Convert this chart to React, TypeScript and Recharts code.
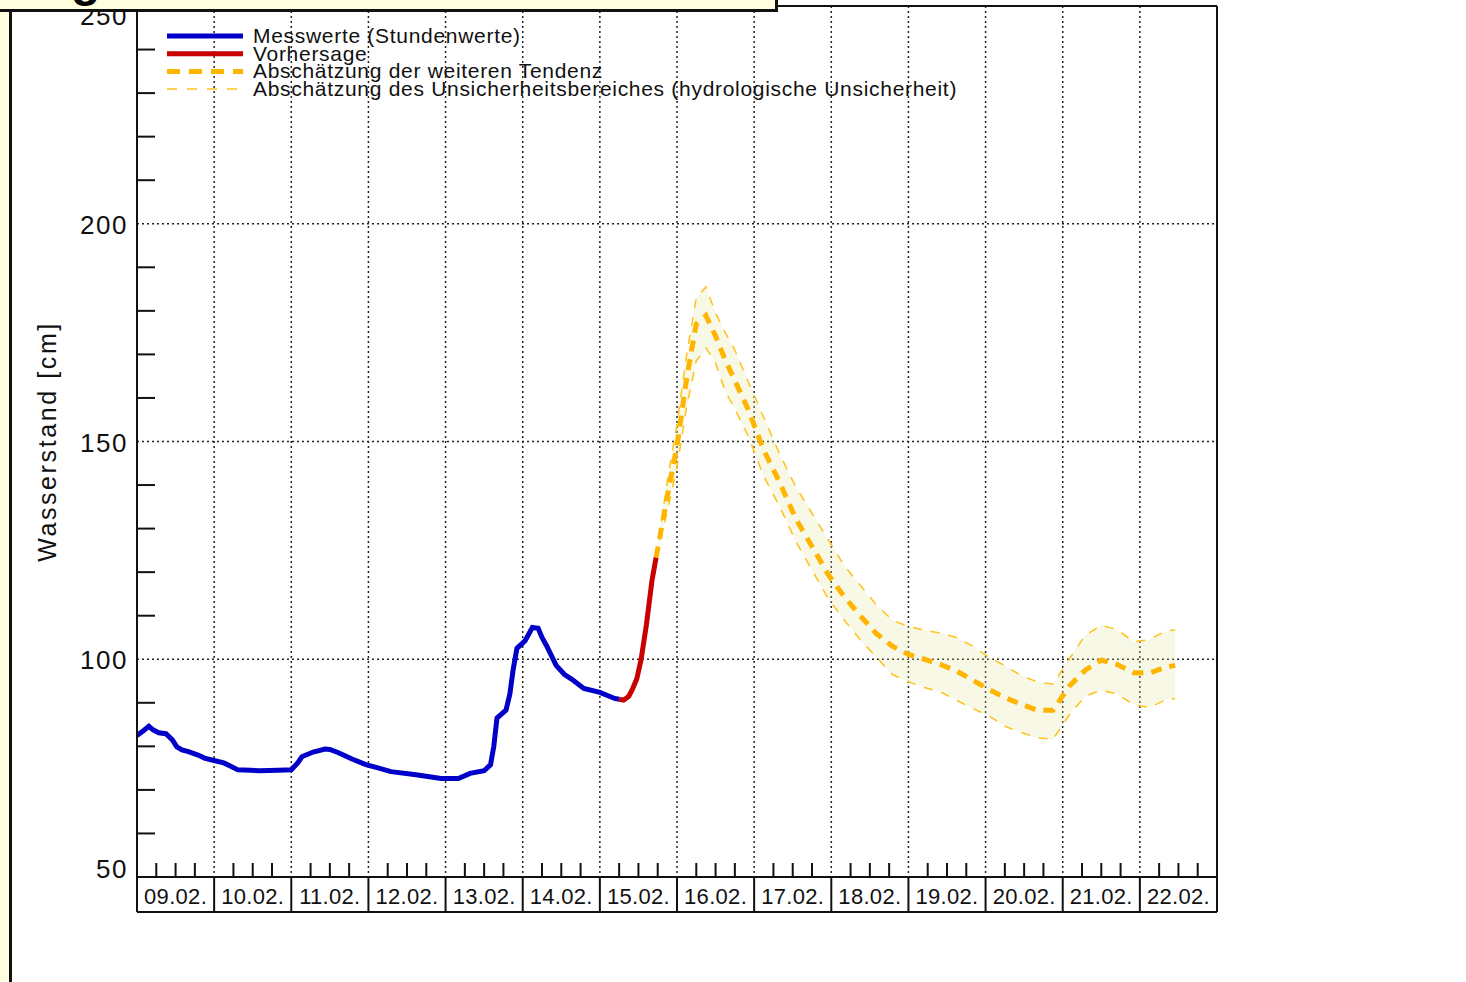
import React from 'react';
import {
  Area,
  CartesianGrid,
  ComposedChart,
  Legend,
  Line,
  XAxis,
  YAxis,
} from 'recharts';

// hours since 09.02. 00:00 -> water level in cm
const MEASURED_HOURS = [
  0, 2, 3.7, 5, 6.8, 9, 11, 12.4, 14, 16, 19, 21, 23.6, 27, 29, 31.4, 38, 44, 48, 50, 51.3, 54.8,
  58.5, 60, 62.5, 66.9, 71.2, 74.7, 79, 86.8, 94.6, 100, 103.6, 108, 110, 111, 112, 114.8, 116,
  117, 118.2, 120.7, 123, 124.8, 126, 127.5, 130.4, 133, 135.3, 139, 144, 148.6, 150,
];
const MEASURED_LEVEL = [
  82.5, 83.6, 84.6, 83.8, 83.1, 82.9, 81.5, 79.9, 79.2, 78.8, 78.0, 77.3, 76.8, 76.2, 75.5, 74.6,
  74.4, 74.5, 74.6, 76.2, 77.6, 78.7, 79.4, 79.3, 78.6, 77.1, 75.8, 75.1, 74.2, 73.5, 72.6, 72.6,
  73.8, 74.4, 75.8, 80, 86.5, 88.3, 92, 97.5, 102.5, 104.2, 107.3, 107.1, 105, 103, 98.6, 96.5,
  95.4, 93.3, 92.4, 91, 90.8,
];

const FORECAST_HOURS = [150, 151.4, 153, 154, 155.5, 156.8, 158.5, 160.2, 161.5];
const FORECAST_LEVEL = [90.8, 90.6, 91.5, 92.9, 95.5, 99.8, 108, 118, 123.4];

const TREND_HOURS = [
  161.5, 165, 168, 171, 174, 177, 180, 183, 186, 190, 195, 200, 205, 210, 215, 220, 225, 230, 235,
  240, 245, 250, 255, 260, 265, 270, 275, 280, 285, 290, 295, 300, 305, 310, 315, 320, 323,
];
const TREND_LEVEL = [
  123.4, 137.5, 149, 164.5, 177, 178.9, 174.2, 168.7, 164, 157.6, 148, 140.5, 132.2, 125.9, 119.5,
  114.4, 110, 105.9, 103, 101.1, 100, 98.8, 97.3, 95.2, 93.1, 91.2, 89.7, 88.3, 88.3, 93.8, 97.5,
  99.8, 98.8, 96.9, 96.8, 98.2, 98.6,
];
const TREND_HIGH = [
  123.4, 141, 154, 170, 183, 185.5, 179.5, 175, 171, 164, 155.5, 147, 139.5, 133.5, 127.5, 121.5,
  117, 112.5, 109, 107.5, 106.7, 106, 105, 103, 100.5, 98.5, 96.3, 94.8, 94.3, 100, 105.5, 107.8,
  106.8, 104, 104.5, 106.5, 106.7,
];
const TREND_LOW = [
  123.4, 134, 144, 158, 168.5, 171.5, 168, 161.5, 157.5, 151.5, 142, 135, 127, 120.5, 114, 109,
  104.5, 100.5, 96.5, 94.8, 93.5, 92.5, 90.6, 88.7, 87, 84.6, 83.2, 82, 81.6, 87.2, 91.5, 92.9, 92,
  89.6, 88.9, 90.7, 91,
];

const DAY_LABELS = [
  '09.02.', '10.02.', '11.02.', '12.02.', '13.02.', '14.02.', '15.02.',
  '16.02.', '17.02.', '18.02.', '19.02.', '20.02.', '21.02.', '22.02.',
];
const HOUR_TICKS = Array.from({ length: DAY_LABELS.length * 4 + 1 }, (_, i) => i * 6);
const DAY_BOUNDS = DAY_LABELS.slice(1).map((_, i) => (i + 1) * 24);
const LEVEL_TICKS = [50, 60, 70, 80, 90, 100, 110, 120, 130, 140, 150, 160, 170, 180, 190, 200, 210, 220, 230, 240, 250];
const GRID_LEVELS = [100, 150, 200];
const MW_LEVEL = 91;
const RIGHT_TICKS = [...LEVEL_TICKS, MW_LEVEL].sort((a, b) => a - b);

const LEGEND_ITEMS = [
  { label: 'Messwerte (Stundenwerte)', color: '#0000C8', width: 5, dash: undefined },
  { label: 'Vorhersage', color: '#C80000', width: 5, dash: undefined },
  { label: 'Abschätzung der weiteren Tendenz', color: '#FFB400', width: 5, dash: '13 9' },
  { label: 'Abschätzung des Unsicherheitsbereiches (hydrologische Unsicherheit)', color: '#FFC21A', width: 1.5, dash: '10 10' },
];

const FONT = '"Liberation Sans", Arial, sans-serif';
const INK = '#111';

const measured = MEASURED_HOURS.map((h, i) => ({ h, v: MEASURED_LEVEL[i] }));
const forecast = FORECAST_HOURS.map((h, i) => ({ h, v: FORECAST_LEVEL[i] }));
const trend = TREND_HOURS.map((h, i) => ({
  h,
  v: TREND_LEVEL[i],
  hi: TREND_HIGH[i],
  lo: TREND_LOW[i],
  range: [TREND_LOW[i], TREND_HIGH[i]],
}));

const BottomTick = ({ x, y, payload }: any) => {
  const h = payload.value;
  if (h % 24 === 0) return <line x1={x} x2={x} y1={y} y2={y + 35} stroke={INK} strokeWidth={2} />;
  const tick = <line x1={x} x2={x} y1={y} y2={y - 14} stroke={INK} strokeWidth={2} />;
  if (h % 24 !== 12) return tick;
  return (
    <g>
      {tick}
      <text x={x} y={y + 27} textAnchor="middle" fontSize={22} letterSpacing={0.3} fill={INK} fontFamily={FONT}>
        {DAY_LABELS[(h - 12) / 24]}
      </text>
    </g>
  );
};

const TopTick = ({ x, y, payload }: any) =>
  payload.value % 24 === 0 ? <g /> : <line x1={x} x2={x} y1={y} y2={y + 12} stroke={INK} strokeWidth={2} />;

const LeftTick = ({ x, y, payload }: any) => {
  const v = payload.value;
  if (v % 50 !== 0) return <line x1={x} x2={x + 18} y1={y} y2={y} stroke={INK} strokeWidth={2} />;
  const shift = v === 250 ? 9 : v === 50 ? -9 : 0;
  return (
    <text x={x - 9} y={y + shift + 10} textAnchor="end" fontSize={26} letterSpacing={1.5} fill={INK} fontFamily={FONT}>
      {v}
    </text>
  );
};

const RightTick = ({ x, y, payload }: any) => {
  const v = payload.value;
  if (v === MW_LEVEL) {
    return (
      <g>
        <line x1={x} x2={x + 40} y1={y} y2={y} stroke={INK} strokeWidth={2} />
        <text x={x + 46} y={y + 6} fontSize={15} fill={INK} fontFamily={FONT}>MW</text>
      </g>
    );
  }
  if (v % 50 === 0) return <g />;
  return <line x1={x - 17} x2={x} y1={y} y2={y} stroke={INK} strokeWidth={2} />;
};

const YTitle = ({ viewBox }: any) => {
  const cx = viewBox.x + 47;
  const cy = viewBox.y + viewBox.height / 2;
  return (
    <text x={cx} y={cy} transform={`rotate(-90 ${cx} ${cy})`} textAnchor="middle" dominantBaseline="central"
      fontSize={25} letterSpacing={2.6} fill={INK} fontFamily={FONT}>
      Wasserstand  [cm]
    </text>
  );
};

const LegendBox = () => (
  <svg width={840} height={80} style={{ display: 'block' }}>
    {LEGEND_ITEMS.map((item, i) => {
      const cy = 12 + i * 17.7;
      return (
        <g key={item.label}>
          <line x1={7} x2={83} y1={cy} y2={cy} stroke={item.color} strokeWidth={item.width} strokeDasharray={item.dash} />
          <text x={93} y={cy + 7} fontSize={21} letterSpacing={0.7} fill={INK} fontFamily={FONT}>{item.label}</text>
        </g>
      );
    })}
  </svg>
);

const axisStroke = { stroke: INK, strokeWidth: 2 };

const App: React.FC = () => (
  <div style={{ position: 'absolute', left: 0, top: 0, width: 1466, height: 982, overflow: 'hidden', background: '#fff' }}>
    <ComposedChart width={1466} height={982} margin={{ top: 0, right: 0, bottom: 0, left: 0 }} style={{ fontFamily: FONT }}>
      <XAxis xAxisId="xbox" type="number" domain={[0, 336]} orientation="bottom" height={70}
        tick={false} tickLine={false} axisLine={axisStroke} />
      <XAxis xAxisId="main" type="number" dataKey="h" domain={[0, 336]} ticks={HOUR_TICKS} interval={0}
        orientation="bottom" height={35} tickSize={0} tickMargin={0} tickLine={false} axisLine={axisStroke}
        tick={<BottomTick />} allowDataOverflow />
      <XAxis xAxisId="top" type="number" domain={[0, 336]} ticks={HOUR_TICKS} interval={0} orientation="top"
        height={6} tickSize={0} tickMargin={0} tickLine={false} axisLine={axisStroke} tick={<TopTick />} />
      <YAxis yAxisId="left" type="number" domain={[50, 250]} ticks={LEVEL_TICKS} interval={0} width={137}
        tickSize={0} tickMargin={0} tickLine={false} axisLine={axisStroke} tick={<LeftTick />}
        label={{ content: <YTitle /> }} allowDataOverflow />
      <YAxis yAxisId="right" orientation="right" type="number" domain={[50, 250]} ticks={RIGHT_TICKS} interval={0}
        width={249} tickSize={0} tickMargin={0} tickLine={false} axisLine={axisStroke} tick={<RightTick />} />
      <CartesianGrid xAxisId="main" yAxisId="left" verticalValues={DAY_BOUNDS} horizontalValues={GRID_LEVELS}
        stroke="#222" strokeWidth={1.5} strokeDasharray="2 3" />
      <Legend layout="vertical" align="center" verticalAlign="middle" content={<LegendBox />}
        wrapperStyle={{ left: 160, top: 24, width: 840, height: 80 }} />
      <Area xAxisId="main" yAxisId="left" data={trend} dataKey="range" type="linear" stroke="none"
        fill="#E4E49C" fillOpacity={0.25} isAnimationActive={false} legendType="none" />
      <Line xAxisId="main" yAxisId="left" data={trend} dataKey="hi" type="linear" stroke="#FFC21A" strokeWidth={1.5}
        strokeDasharray="9 9" dot={false} isAnimationActive={false} />
      <Line xAxisId="main" yAxisId="left" data={trend} dataKey="lo" type="linear" stroke="#FFC21A" strokeWidth={1.5}
        strokeDasharray="9 9" dot={false} isAnimationActive={false} />
      <Line xAxisId="main" yAxisId="left" data={measured} dataKey="v" type="linear" stroke="#0000C8" strokeWidth={5}
        dot={false} isAnimationActive={false} />
      <Line xAxisId="main" yAxisId="left" data={forecast} dataKey="v" type="linear" stroke="#C80000" strokeWidth={5}
        dot={false} isAnimationActive={false} />
      <Line xAxisId="main" yAxisId="left" data={trend} dataKey="v" type="linear" stroke="#FFB400" strokeWidth={5}
        strokeDasharray="11 8" dot={false} isAnimationActive={false} />
    </ComposedChart>
    <div style={{ position: 'absolute', left: 0, top: 0, width: 9, height: 982, background: '#FFFFE0', borderRight: '3px solid #111' }} />
    <div style={{ position: 'absolute', left: 0, top: 0, width: 775, height: 9, background: '#FFFFE0', borderBottom: '3px solid #111', borderRight: '3px solid #111', overflow: 'hidden' }}>
      <svg width={775} height={9} style={{ display: 'block' }}>
        <text x={71} y={-4} fontSize={48} fontWeight="bold" fill="#000" fontFamily={FONT}>g</text>
      </svg>
    </div>
  </div>
);

export default App;
